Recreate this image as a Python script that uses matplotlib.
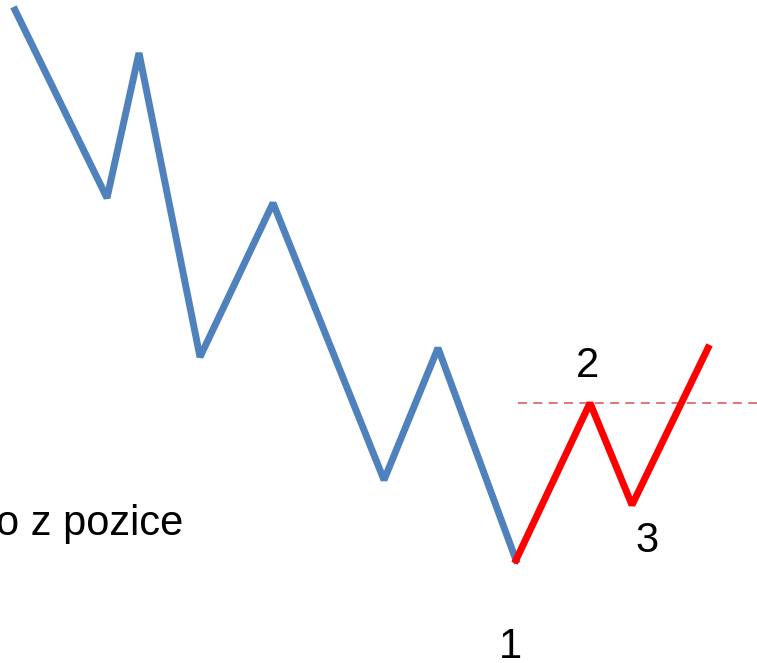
import matplotlib
matplotlib.use("Agg")
from matplotlib import pyplot as plt

# zig-zag price path, in picture pixel coordinates (y grows downward)
blue_x = [15, 107, 139, 200, 273, 384, 438, 516]
blue_y = [10, 198, 53, 357, 203, 480, 348, 560]
red_x = [516, 590, 632, 708]
red_y = [560, 403, 505, 348]
level_y = 403
level_x = [518, 757]

labels = ["1", "2", "3"]
label_x = [510, 587, 647]
label_y = [647, 366, 541]

fig = plt.figure(figsize=(7.57, 6.63), dpi=100)
ax = fig.add_axes([0, 0, 1, 1])
ax.set_xlim(0, 757)
ax.set_ylim(663, 0)
ax.axis("off")

ax.plot(level_x, [level_y, level_y], color="#D9534F", lw=1.3, ls=(0, (5, 3.5)), alpha=0.85)
ax.plot(blue_x, blue_y, color="#4F81BD", lw=5, solid_joinstyle="bevel")
ax.plot(red_x, red_y, color="#FF0000", lw=5, solid_joinstyle="bevel")

for t, x, y in zip(labels, label_x, label_y):
    ax.text(x, y, t, fontsize=30, family="Liberation Sans", ha="center", va="center")

ax.text(183, 535, "o z pozice", fontsize=30, family="Liberation Sans", ha="right", va="baseline")

fig.savefig("out.png", dpi=100)
